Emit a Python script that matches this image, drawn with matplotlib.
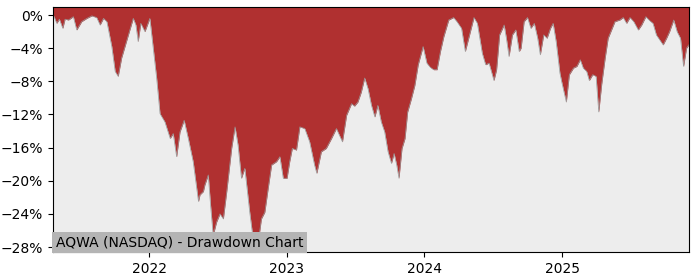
import pandas as pd
import matplotlib
matplotlib.use("Agg")
from matplotlib import pyplot as plt
from matplotlib.ticker import PercentFormatter
import matplotlib.dates as mdates

# drawdown values (percent below running peak)
dates = [
    "2021-04-21", "2021-04-24", "2021-05-01", "2021-05-08", "2021-05-17", "2021-05-23",
    "2021-06-01", "2021-06-14", "2021-06-23", "2021-07-06", "2021-07-20", "2021-08-02",
    "2021-08-15", "2021-08-24", "2021-09-02", "2021-09-11", "2021-09-24", "2021-10-03",
    "2021-10-11", "2021-10-20", "2021-11-07", "2021-11-20", "2021-11-27", "2021-12-03",
    "2021-12-10", "2021-12-21", "2022-01-03", "2022-01-08", "2022-01-21", "2022-01-30",
    "2022-02-12", "2022-02-26", "2022-03-06", "2022-03-15", "2022-03-24", "2022-04-04",
    "2022-04-15", "2022-04-28", "2022-05-12", "2022-05-16", "2022-05-25", "2022-05-29",
    "2022-06-07", "2022-06-13", "2022-06-20", "2022-06-29", "2022-07-08", "2022-07-17",
    "2022-07-26", "2022-08-08", "2022-08-17", "2022-08-25", "2022-09-03", "2022-09-12",
    "2022-09-25", "2022-10-04", "2022-10-11", "2022-10-17", "2022-10-26", "2022-11-04",
    "2022-11-13", "2022-11-22", "2022-12-05", "2022-12-14", "2022-12-23", "2023-01-02",
    "2023-01-09", "2023-01-16", "2023-01-27", "2023-02-05", "2023-02-18", "2023-03-03",
    "2023-03-16", "2023-03-22", "2023-04-03", "2023-04-16", "2023-04-30", "2023-05-13",
    "2023-05-29", "2023-06-09", "2023-06-22", "2023-06-30", "2023-07-09", "2023-07-18",
    "2023-07-27", "2023-08-05", "2023-08-14", "2023-08-23", "2023-08-31", "2023-09-09",
    "2023-09-18", "2023-09-27", "2023-10-06", "2023-10-13", "2023-10-20", "2023-10-26",
    "2023-11-03", "2023-11-11", "2023-11-18", "2023-11-28", "2023-12-07", "2023-12-16",
    "2023-12-29", "2024-01-08", "2024-01-17", "2024-01-26", "2024-02-04", "2024-02-13",
    "2024-02-22", "2024-03-06", "2024-03-19", "2024-03-28", "2024-04-09", "2024-04-19",
    "2024-04-28", "2024-05-12", "2024-05-21", "2024-06-03", "2024-06-12", "2024-06-21",
    "2024-07-04", "2024-07-11", "2024-07-19", "2024-07-31", "2024-08-06", "2024-08-13",
    "2024-08-22", "2024-08-31", "2024-09-09", "2024-09-14", "2024-09-18", "2024-09-22",
    "2024-10-01", "2024-10-10", "2024-10-19", "2024-10-28", "2024-11-04", "2024-11-13",
    "2024-11-22", "2024-12-01", "2024-12-08", "2024-12-16", "2024-12-26", "2024-12-31",
    "2025-01-12", "2025-01-20", "2025-01-31", "2025-02-09", "2025-02-18", "2025-02-26",
    "2025-03-07", "2025-03-14", "2025-03-23", "2025-04-01", "2025-04-08", "2025-04-16",
    "2025-04-25", "2025-05-03", "2025-05-12", "2025-05-21", "2025-06-03", "2025-06-12",
    "2025-06-21", "2025-06-30", "2025-07-10", "2025-07-22", "2025-07-31", "2025-08-11",
    "2025-08-22", "2025-08-30", "2025-09-08", "2025-09-17", "2025-09-26", "2025-10-05",
    "2025-10-13", "2025-10-24", "2025-11-02", "2025-11-11", "2025-11-19", "2025-11-27",
    "2025-12-03",
]
drawdown = [
    0.0, -0.2, -1.0, -0.5, -1.6, -0.5,
    -0.6, -0.2, -1.8, -0.8, -0.4, -0.1,
    -0.3, -1.2, -0.4, -0.8, -3.8, -6.8,
    -7.4, -5.2, -2.4, -0.4, -1.2, -3.2,
    -1.0, -2.0, -0.4, -2.4, -7.6, -11.9,
    -12.9, -14.9, -14.3, -17.1, -14.1, -12.7,
    -14.9, -17.7, -22.5, -21.7, -21.3, -20.5,
    -19.3, -22.9, -26.6, -25.0, -24.0, -24.6,
    -21.3, -16.1, -13.5, -15.7, -19.7, -18.5,
    -23.8, -27.0, -26.6, -27.6, -24.6, -23.8,
    -20.9, -18.1, -17.7, -17.1, -19.7, -19.7,
    -17.7, -16.1, -16.3, -13.5, -13.7, -15.3,
    -18.1, -19.1, -16.5, -16.1, -14.9, -13.7,
    -15.3, -12.1, -10.7, -11.0, -10.5, -9.3,
    -7.6, -8.9, -10.9, -12.3, -10.9, -12.9,
    -14.1, -16.5, -17.9, -16.7, -18.1, -19.7,
    -16.1, -14.9, -11.7, -10.1, -8.5, -6.0,
    -3.8, -5.8, -6.3, -6.6, -6.6, -4.4,
    -2.6, -0.6, -0.3, -0.8, -1.6, -4.4,
    -2.8, -0.3, -1.0, -4.6, -6.0, -5.8,
    -7.9, -6.6, -2.4, -1.2, -2.8, -5.0,
    -2.4, -1.8, -4.4, -4.0, -2.4, -0.8,
    -0.3, -1.6, -1.0, -2.8, -4.8, -2.4,
    -2.8, -1.6, -1.0, -3.2, -7.0, -8.1,
    -10.5, -7.2, -6.4, -6.2, -5.4, -6.4,
    -6.8, -7.9, -7.2, -7.4, -11.7, -8.3,
    -5.2, -2.8, -1.8, -0.8, -0.6, -0.3,
    -1.0, -0.3, -0.8, -1.8, -1.2, -0.2,
    -0.7, -1.0, -2.4, -3.0, -3.6, -2.8,
    -2.0, -0.6, -2.0, -2.8, -6.2, -4.0,
    -3.6,
]
yticks = [0, -4, -8, -12, -16, -20, -24, -28]

x = pd.to_datetime(dates)

fig = plt.figure(figsize=(7, 2.8), dpi=100)
ax = fig.add_axes([0.0757, 0.1, 0.9083, 0.875])
ax.set_facecolor("#ededed")

top = 0.97
ax.fill_between(x, drawdown, top, color="#b03030", linewidth=0)
ax.plot(x, drawdown, color="#999999", linewidth=0.5)

ax.set_xlim(x[0], x[-1])
ax.set_ylim(-28.6, top)
ax.set_yticks(yticks)
ax.yaxis.set_major_formatter(PercentFormatter(decimals=0))
ax.xaxis.set_major_locator(mdates.YearLocator())
ax.xaxis.set_major_formatter(mdates.DateFormatter("%Y"))
ax.tick_params(labelsize=10)

ax.text(0.004, 0.012, "AQWA (NASDAQ) - Drawdown Chart", transform=ax.transAxes,
        fontsize=10, ha="left", va="bottom",
        bbox=dict(facecolor="#b4b4b4", edgecolor="none", pad=2.5))

fig.savefig("out.png", dpi=100)
